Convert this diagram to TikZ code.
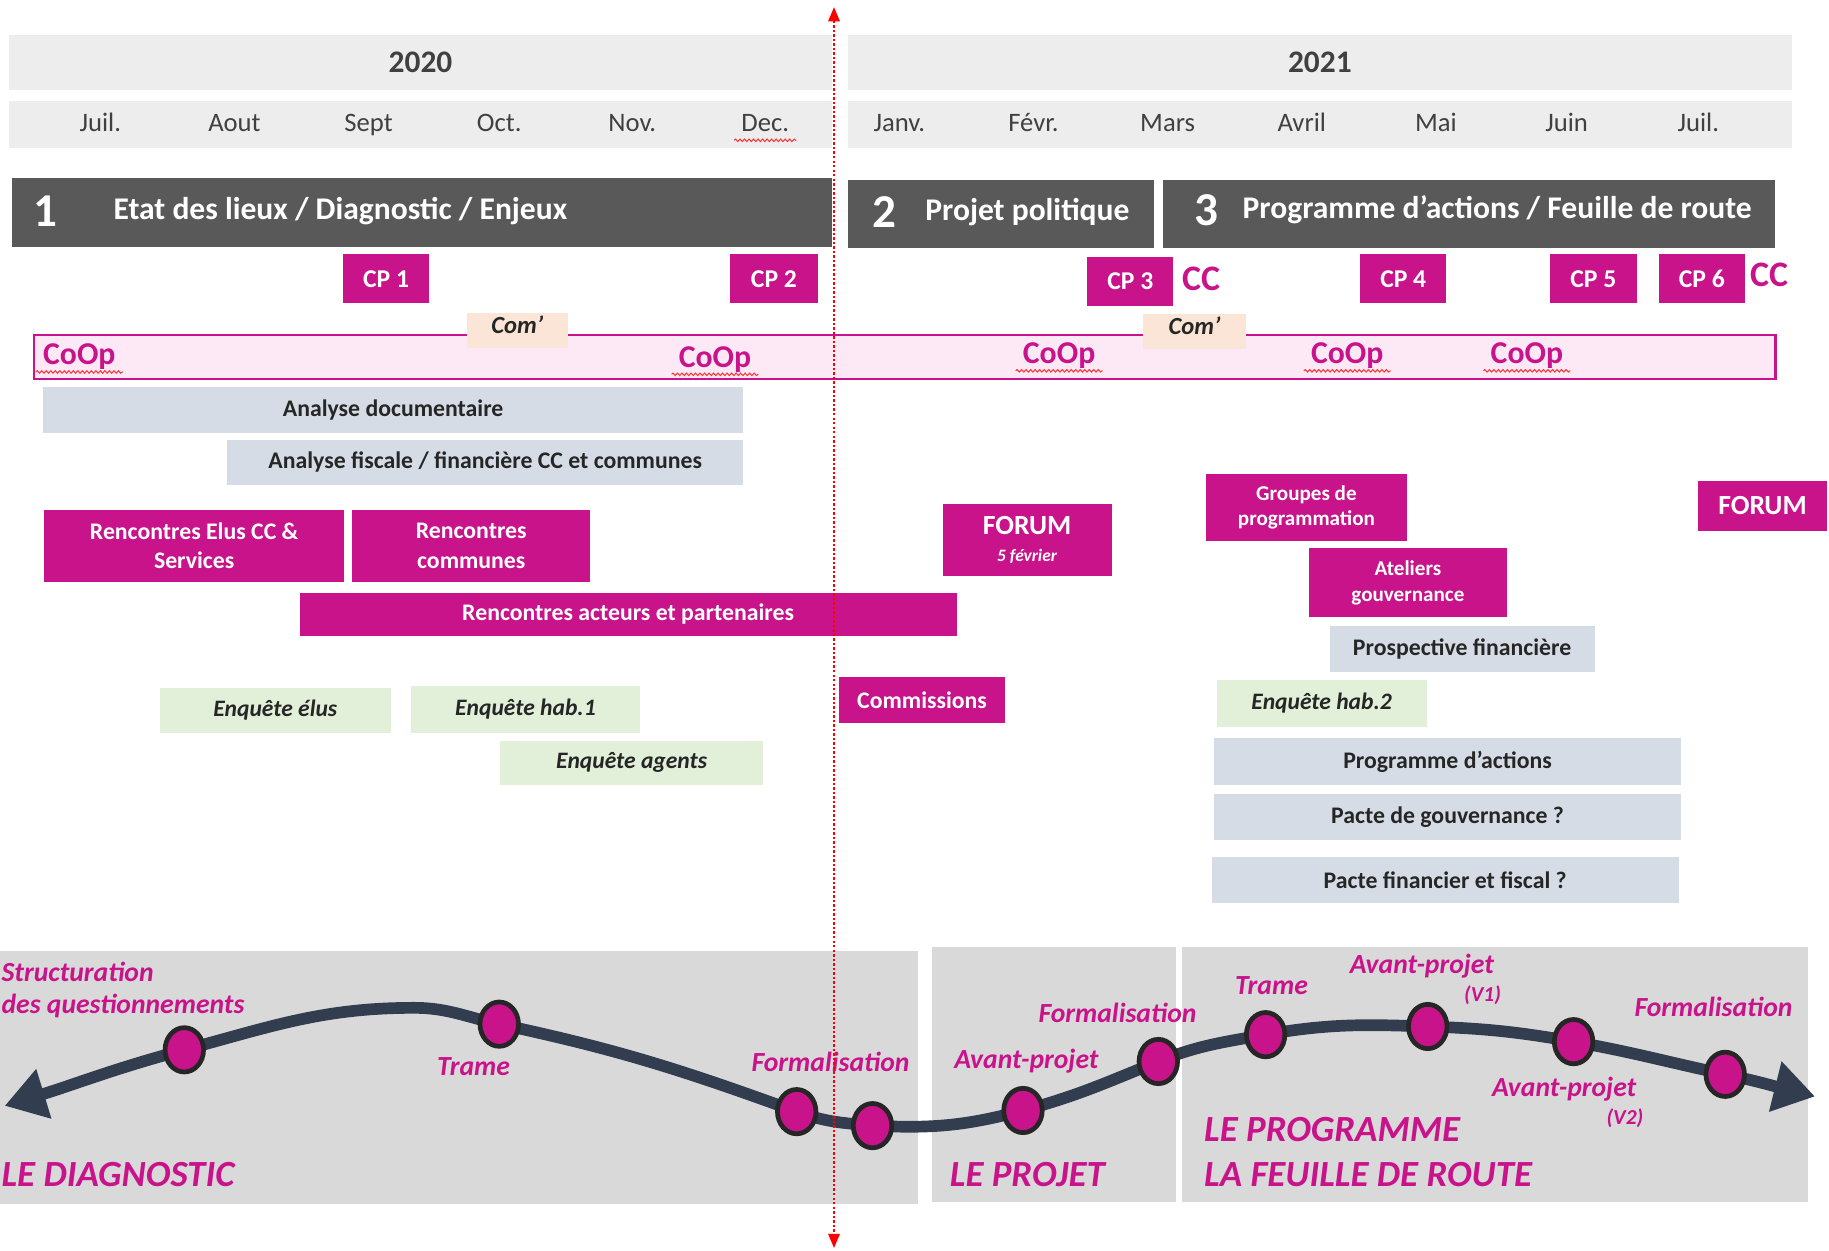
\documentclass[tikz,border=0pt]{standalone}
\usepackage{fontspec}
\setmainfont{Carlito}
\usetikzlibrary{arrows.meta,shapes.geometric,decorations.pathmorphing}

\definecolor{bandgrey}{HTML}{EDEDED}
\definecolor{phasegrey}{HTML}{595959}
\definecolor{panelgrey}{HTML}{D9D9D9}
\definecolor{boxblue}{HTML}{D6DCE5}
\definecolor{boxgreen}{HTML}{E2F0D9}
\definecolor{boxpeach}{HTML}{FBE5D6}
\definecolor{coopfill}{HTML}{FDE9F5}
\definecolor{rose}{HTML}{C8138A}
\definecolor{curvenavy}{HTML}{323E4F}
\definecolor{dotrim}{HTML}{262626}
\definecolor{inkgrey}{HTML}{404040}

\newcommand{\fsz}[2]{\fontsize{#1}{#2}\selectfont}

\tikzset{
  wh/.style 2 args={minimum width=#1*0.02cm, minimum height=#2*0.02cm},
  band/.style={fill=bandgrey, inner sep=0pt},
  phase/.style={fill=phasegrey, inner sep=0pt},
  phasetxt/.style={text=white, font=\bfseries\fsz{15.4}{17}, anchor=west, inner sep=0pt},
  phasenum/.style={text=white, font=\bfseries\fsz{23}{25}},
  cpbox/.style={fill=rose, text=white, font=\bfseries\fsz{12.5}{14}, inner sep=0pt},
  pinkbox/.style={fill=rose, text=white, font=\bfseries\fsz{11.6}{14.2}, align=center, inner sep=0pt},
  greybox/.style={fill=boxblue, text=black!85, font=\bfseries\fsz{11.6}{13}, inner sep=0pt},
  greenbox/.style={fill=boxgreen, text=black!85, font=\bfseries\itshape\fsz{11.5}{13}, inner sep=0pt},
  peachbox/.style={fill=boxpeach, inner sep=0pt},
  comtxt/.style={text=black!85, font=\bfseries\itshape\fsz{12}{14}},
  coop/.style={text=rose, font=\bfseries\fsz{15.5}{17}},
  cc/.style={text=rose, font=\bfseries\fsz{17.5}{19}, anchor=west, inner sep=0pt},
  wavy/.style={draw=red!80, line width=0.5pt, decorate,
    decoration={snake, amplitude=0.6pt, segment length=2.2pt}},
  lbl/.style={text=rose, font=\bfseries\itshape\fsz{13.5}{15}},
  biglbl/.style={text=rose, font=\bfseries\itshape\fsz{18}{20}, anchor=west, inner sep=0pt},
  vlbl/.style={text=rose, font=\bfseries\itshape\fsz{10.4}{12}},
  dot/.style={ellipse, fill=rose, draw=dotrim, line width=2.3pt,
    minimum width=0.66cm, minimum height=0.76cm, inner sep=0pt},
  curve/.style={draw=curvenavy, line width=5.7pt,
    {Triangle[length=20pt,width=24pt]}-{Triangle[length=20pt,width=24pt]}},
  today/.style={draw=red, line width=1.2pt, densely dotted,
    {Triangle[length=7pt,width=5.5pt]}-{Triangle[length=7pt,width=5.5pt]}}
}

\begin{document}
\begin{tikzpicture}[x=0.02cm, y=-0.02cm]
\useasboundingbox (0,0) rectangle (1568,1072);
\clip (0,0) rectangle (1568,1072);

% years and months
\node[band, wh={705}{47}] (y2020) at (360.5,53.5) {};
\node[band, wh={809}{47}] (y2021) at (1131.5,53.5) {};
\node[text=inkgrey, font=\bfseries\fsz{15.3}{17}] at (y2020) {2020};
\node[text=inkgrey, font=\bfseries\fsz{15.3}{17}] at (y2021) {2021};
\node[band, wh={705}{40}] (m2020) at (360.5,107) {};
\node[band, wh={809}{40}] (m2021) at (1131.5,107) {};
\foreach \mx/\mname [count=\i] in {86/Juil., 201/Aout, 316/Sept, 428/Oct., 542/Nov., 656/Dec.,
    771/Janv., 886/Févr., 1001/Mars, 1116/Avril, 1231/Mai, 1343/Juin, 1456/Juil.}
  \node[text=inkgrey, font=\fsz{13}{15}, anchor=base] (mon\i) at (\mx,113) {\mname};
\draw[wavy] ([yshift=-0.5pt]mon6.south west) -- ([yshift=-0.5pt]mon6.south east);

% phases
\node[phase, wh={703}{59}] (ph1) at (361.5,182.5) {};
\node[phase, wh={262}{59}] (ph2) at (858,183.5) {};
\node[phase, wh={525}{59}] (ph3) at (1259.5,183.5) {};
\node[phasenum] at (39,181) {1};
\node[phasetxt] at (97,181) {Etat des lieux / Diagnostic / Enjeux};
\node[phasenum] at (758,182) {2};
\node[phasetxt] at (793,182) {Projet politique};
\node[phasenum] at (1034,180) {3};
\node[phasetxt] at (1065,180) {Programme d’actions / Feuille de route};

% comites de pilotage
\node[cpbox, wh={74}{42}] (cp1) at (331,239) {CP 1};
\node[cpbox, wh={75}{42}] (cp2) at (663.5,239) {CP 2};
\node[cpbox, wh={74}{42}] (cp3) at (969,241) {CP 3};
\node[cpbox, wh={74}{42}] (cp4) at (1203,239) {CP 4};
\node[cpbox, wh={74}{42}] (cp5) at (1366,239) {CP 5};
\node[cpbox, wh={74}{42}] (cp6) at (1459,239) {CP 6};
\node[cc] (cc1) at (1013,239) {CC};
\node[cc] (cc2) at (1500,236) {CC};

% CoOp band
\node[fill=coopfill, draw=rose, line width=1.2pt, wh={1493}{38}, inner sep=0pt] (coopband) at (775.5,306) {};
\node[peachbox, wh={87}{30}] (com1) at (443.5,283) {};
\node[peachbox, wh={88}{30}] (com2) at (1024,284.5) {};
\node[comtxt] at ([yshift=2.8pt]com1) {Com’};
\node[comtxt] at ([yshift=2.8pt]com2) {Com’};
\foreach \cx/\cy [count=\i] in {68/306, 613/308, 908/305, 1155/305, 1309/305} {
  \node[coop] (coop\i) at (\cx,\cy) {CoOp};
  \draw[wavy] ([yshift=2.5pt]coop\i.south west) -- ([yshift=2.5pt]coop\i.south east);
}

% analyses
\node[greybox, wh={600}{39}] (anadoc) at (337,351.5) {Analyse documentaire};
\node[greybox, wh={442}{39}] (anafis) at (416,396.5) {Analyse fiscale / financière CC et communes};

% rencontres
\node[pinkbox, wh={257}{62}] (renelus) at (166.5,468) {Rencontres Elus CC \&\\Services};
\node[pinkbox, wh={204}{62}] (rencom) at (404,468) {Rencontres\\communes};
\node[pinkbox, wh={563}{37}] (renact) at (538.5,526.5) {Rencontres acteurs et partenaires};
\node[pinkbox, wh={145}{62}] (forum1) at (880.5,463)
  {\raisebox{-2pt}{\fsz{13.5}{15}FORUM}\\[1pt]{\itshape\fsz{8.5}{10}5 février}};
\node[pinkbox, wh={143}{40}] (commis) at (790.5,600) {Commissions};
\node[pinkbox, wh={172}{58}, font=\bfseries\fsz{10.3}{12.5}] (groupes) at (1120,435) {Groupes de\\programmation};
\node[pinkbox, wh={170}{59}, font=\bfseries\fsz{10.3}{12.5}] (ateliers) at (1207,499.5) {Ateliers\\gouvernance};
\node[pinkbox, wh={110}{43}, font=\bfseries\fsz{13.5}{15}] (forum2) at (1511,433.5) {FORUM};
\node[greybox, wh={227}{39}] (prosp) at (1253.5,556.5) {Prospective financière};

% enquetes
\node[greenbox, wh={198}{38}] (enqelus) at (236,609) {Enquête élus};
\node[greenbox, wh={197}{40}] (enqhab1) at (450.5,608) {Enquête hab.1};
\node[greenbox, wh={225}{38}] (enqagents) at (541.5,654) {Enquête agents};
\node[greenbox, wh={180}{40}] (enqhab2) at (1133,603) {Enquête hab.2};

% livrables
\node[greybox, wh={400}{40}] (progact) at (1241,653) {Programme d’actions};
\node[greybox, wh={400}{39}] (pactegouv) at (1241,700.5) {Pacte de gouvernance ?};
\node[greybox, wh={400}{39}] (pactefin) at (1239,754.5) {Pacte financier et fiscal ?};

% panneaux du bas
\node[fill=panelgrey, wh={787}{217}, inner sep=0pt] (pan1) at (393.5,923.5) {};
\node[fill=panelgrey, wh={209}{219}, inner sep=0pt] (pan2) at (903.5,921) {};
\node[fill=panelgrey, wh={537}{219}, inner sep=0pt] (pan3) at (1281.5,921) {};

% fil de la demarche
\coordinate (p0) at (4,948);
\coordinate (p1) at (158,900);
\coordinate (crest) at (355,864);
\coordinate (p2) at (428,878);
\coordinate (p3) at (683,953);
\coordinate (p4) at (748,965);
\coordinate (p5) at (877,952);
\coordinate (p6) at (993,910);
\coordinate (p7) at (1085,887);
\coordinate (p8) at (1224,880);
\coordinate (p9) at (1349,893);
\coordinate (p10) at (1479,921);
\coordinate (p11) at (1556,940);
\draw[curve] (p0) to[out=17,in=195] (p1) to[out=15,in=180] (crest)
  to[out=0,in=168] (p2) to[out=-12,in=160] (p3) to[out=-20,in=175] (p4)
  to[out=-3,in=195] (p5) to[out=15,in=202] (p6) to[out=22,in=190] (p7)
  to[out=10,in=178] (p8) to[out=-2,in=170] (p9) to[out=-10,in=168] (p10)
  to[out=-12,in=166] (p11);
\foreach \i in {1,...,10}
  \node[dot] (d\i) at (p\i) {};

\node[lbl, anchor=west, inner sep=0pt] at (1,833) {Structuration};
\node[lbl, anchor=west, inner sep=0pt] at (1,862) {des questionnements};
\node[lbl] at (406,914) {Trame};
\node[lbl] at (712,910) {Formalisation};
\node[biglbl] at (1,1007) {LE DIAGNOSTIC};
\node[lbl] at (880,910) {Avant-projet};
\node[lbl] at (958,868) {Formalisation};
\node[biglbl] at (814,1007) {LE PROJET};
\node[lbl] at (1090,845) {Trame};
\node[lbl] at (1219,828) {Avant-projet};
\node[vlbl] at (1271,853) {(V1)};
\node[lbl] at (1469,863) {Formalisation};
\node[lbl] at (1341,934) {Avant-projet};
\node[vlbl] at (1393,959) {(V2)};
\node[biglbl] at (1032,968) {LE PROGRAMME};
\node[biglbl] at (1032,1007) {LA FEUILLE DE ROUTE};

% aujourd'hui
\coordinate (nowtop) at (715,6);
\coordinate (nowbot) at (715,1070);
\draw[today] (nowtop) -- (nowbot);
\end{tikzpicture}
\end{document}
